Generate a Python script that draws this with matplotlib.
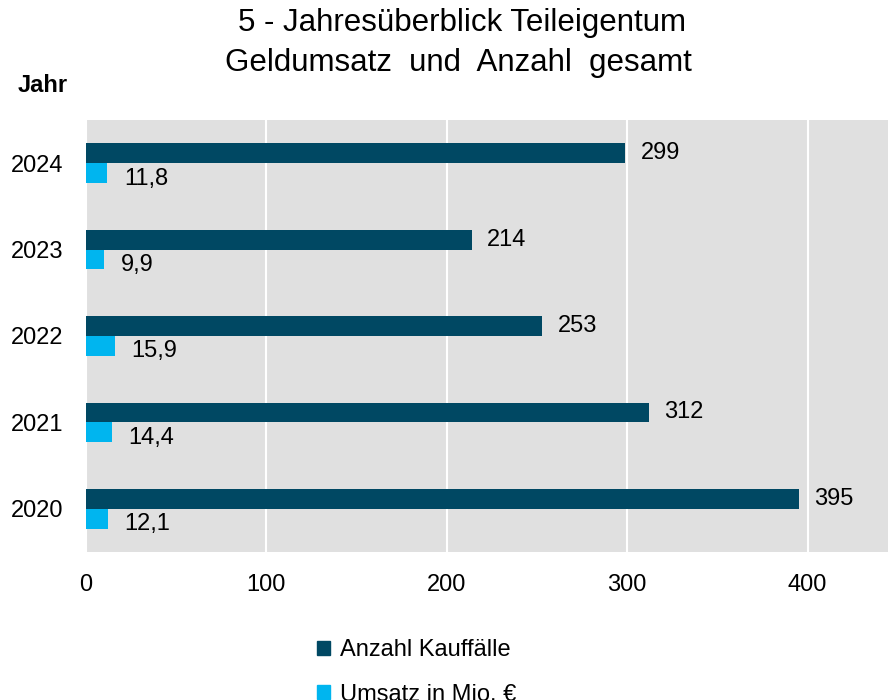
import matplotlib.pyplot as plt
from matplotlib.patches import Patch
import numpy as np

plt.rcParams['font.family'] = ['Liberation Sans', 'DejaVu Sans']

jahre = ['2020', '2021', '2022', '2023', '2024']
anzahl = [395, 312, 253, 214, 299]
umsatz = [12.1, 14.4, 15.9, 9.9, 11.8]

dunkel = '#004863'
hell = '#00B5EF'

fig = plt.figure(figsize=(8.88, 7), dpi=100)
ax = fig.add_axes([86 / 888, 148 / 700, 802 / 888, 432 / 700])
ax.set_facecolor('#E0E0E0')

y = np.arange(len(jahre))
h = 0.23
b1 = ax.barh(y + h / 2, anzahl, height=h, color=dunkel, zorder=3)
b2 = ax.barh(y - h / 2, umsatz, height=h, color=hell, zorder=3)

# Beschriftungen
for yy, v in zip(y, anzahl):
    ax.annotate(str(v), (v, yy + h / 2), xytext=(11, 0), textcoords='offset points',
                va='center', fontsize=17)
for yy, v in zip(y, umsatz):
    ax.annotate(f'{v:.1f}'.replace('.', ','), (v, yy - h / 2), xytext=(12, -4),
                textcoords='offset points', va='center', fontsize=17)

ax.set_xlim(0, 444.6)
ax.set_ylim(-0.5, 4.5)
ax.set_xticks([0, 100, 200, 300, 400])
ax.set_yticks(y)
ax.set_yticklabels(jahre)
ax.tick_params(labelsize=17, length=0)
ax.tick_params(axis='x', pad=16)
ax.tick_params(axis='y', pad=16)
ax.grid(axis='x', color='white', linewidth=1.5, zorder=0)
ax.set_axisbelow(True)
for s in ax.spines.values():
    s.set_visible(False)

fig.text(462 / 888, 1 - 23 / 700, '5 - Jahresüberblick Teileigentum', ha='center',
         va='center', fontsize=22.5)
fig.text(458 / 888, 1 - 63 / 700, 'Geldumsatz  und  Anzahl  gesamt', ha='center',
         va='center', fontsize=22.5)
fig.text(18 / 888, 1 - 85 / 700, 'Jahr', fontsize=17, fontweight='bold',
         va='center')

handles = [Patch(color=dunkel, label='Anzahl Kauffälle'),
           Patch(color=hell, label='Umsatz in Mio. €')]
fig.legend(handles=handles, loc='upper left', bbox_to_anchor=(296 / 888, 1 - 618 / 700),
           frameon=False, fontsize=17, handlelength=0.55, handleheight=0.55,
           handletextpad=0.4, labelspacing=0.95)

fig.savefig('out.png', dpi=100)
